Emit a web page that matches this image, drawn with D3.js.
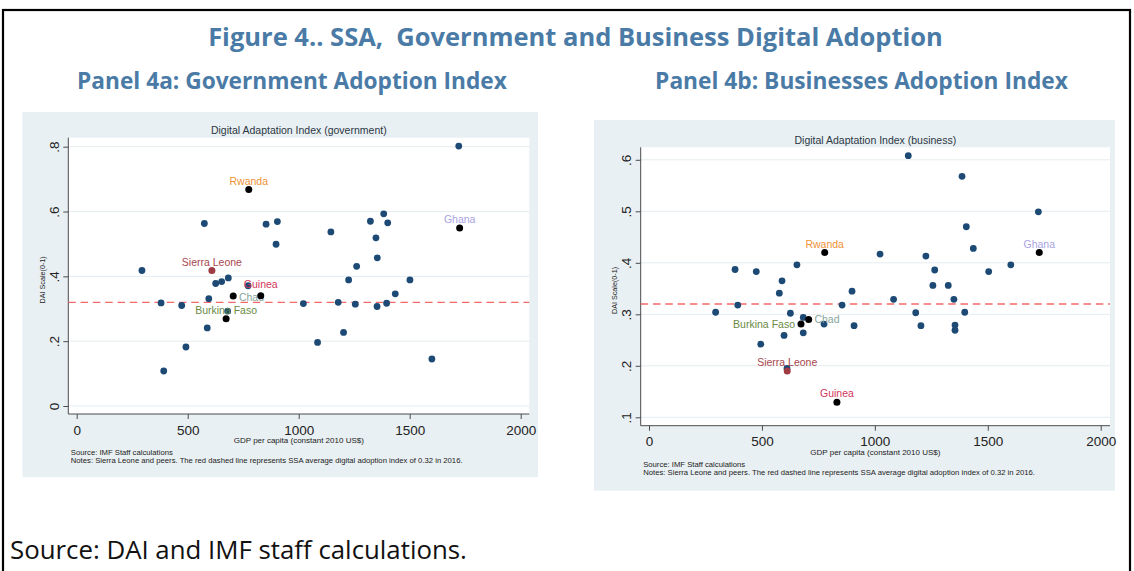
<!DOCTYPE html>
<html><head><meta charset="utf-8">
<script src="https://cdn.jsdelivr.net/npm/d3@7"></script>
<style>body{margin:0;background:#fff}svg{display:block}</style>
</head><body>
<svg id="c" width="1134" height="571"></svg>
<script>
// ---------------- DATA ----------------
const xTicks = [0, 500, 1000, 1500, 2000];
const govYTicks = [0, 0.2, 0.4, 0.6, 0.8];
const busYTicks = [0.1, 0.2, 0.3, 0.4, 0.5, 0.6];
const ssaAverage = 0.32;

const highlightCountries = ["Rwanda", "Ghana", "Sierra Leone", "Chad", "Guinea", "Burkina Faso"];

// Panel 4a: Government adoption index
const govPeersGDP = [294, 575, 380, 473, 492, 392, 588, 595, 626, 653, 683, 680, 772, 853, 904, 898,
  1021, 1085, 1145, 1178, 1202, 1225, 1255, 1261, 1323, 1348, 1354, 1353, 1383, 1401, 1396, 1435, 1501, 1600, 1721];
const govPeersDAI = [0.418, 0.563, 0.318, 0.310, 0.182, 0.108, 0.241, 0.331, 0.378, 0.384, 0.395, 0.293, 0.371, 0.561, 0.569, 0.499,
  0.316, 0.196, 0.537, 0.320, 0.227, 0.389, 0.314, 0.431, 0.570, 0.519, 0.457, 0.307, 0.593, 0.565, 0.317, 0.346, 0.389, 0.145, 0.802];
const govHighGDP = [775, 1725, 609, 705, 829, 673];
const govHighDAI = [0.668, 0.549, 0.418, 0.339, 0.340, 0.269];

// Panel 4b: Business adoption index
const busPeersGDP = [295, 381, 393, 475, 495, 577, 589, 598, 611, 626, 655, 683, 683, 775, 855, 899, 908,
  1023, 1083, 1148, 1181, 1204, 1226, 1257, 1265, 1325, 1350, 1355, 1355, 1386, 1398, 1405, 1436, 1504, 1602, 1724];
const busPeersDAI = [0.304, 0.387, 0.318, 0.383, 0.242, 0.341, 0.365, 0.259, 0.195, 0.302, 0.396, 0.294, 0.264, 0.281, 0.318, 0.345, 0.278,
  0.417, 0.329, 0.608, 0.303, 0.278, 0.413, 0.356, 0.386, 0.356, 0.329, 0.279, 0.269, 0.568, 0.304, 0.470, 0.428, 0.383, 0.396, 0.499];
const busHighGDP = [778, 1728, 612, 707, 832, 673];
const busHighDAI = [0.420, 0.420, 0.190, 0.290, 0.129, 0.281];

// ---------------- STYLE / LAYOUT ----------------
const labelColor = {"Rwanda":"#ee9236","Ghana":"#a9a3e2","Sierra Leone":"#a8464e","Chad":"#86a49b","Guinea":"#d3365c","Burkina Faso":"#6a8a45"};
const markerColor = {"Rwanda":"#000","Ghana":"#000","Sierra Leone":"#a03a43","Chad":"#000","Guinea":"#000","Burkina Faso":"#000"};
const peerColor = "#1c4a75";
const headColor = "#4a7ba6";
const statFont = "'Liberation Sans', Arial, sans-serif";
const headFont = "'Open Sans', 'Noto Sans', sans-serif";

const svg = d3.select("#c");

// outer frame
svg.append("rect").attr("x",3).attr("y",10).attr("width",1127).attr("height",620)
  .attr("fill","none").attr("stroke","#000").attr("stroke-width",2.2);

function fitText(sel, target){
  const w = sel.node().getComputedTextLength();
  sel.attr("font-size", (+sel.attr("font-size")) * target / w);
}

const title = svg.append("text").attr("x",575.5).attr("y",46).attr("text-anchor","middle")
  .attr("font-family",headFont).attr("font-weight",700).attr("font-size",21).attr("fill",headColor)
  .style("white-space","pre").text("Figure 4.. SSA,  Government and Business Digital Adoption");
fitText(title, 735);
const pa = svg.append("text").attr("x",292).attr("y",89).attr("text-anchor","middle")
  .attr("font-family",headFont).attr("font-weight",700).attr("font-size",19).attr("fill",headColor)
  .text("Panel 4a: Government Adoption Index");
fitText(pa, 430);
const pb = svg.append("text").attr("x",861.5).attr("y",89).attr("text-anchor","middle")
  .attr("font-family",headFont).attr("font-weight",700).attr("font-size",19).attr("fill",headColor)
  .text("Panel 4b: Businesses Adoption Index");
fitText(pb, 413);
const src = svg.append("text").attr("x",10).attr("y",559)
  .attr("font-family",headFont).attr("font-size",20).attr("fill","#111")
  .text("Source: DAI and IMF staff calculations.");
fitText(src, 457);

const tickFmt = v => v === 0 ? "0" : d3.format(".1f")(v).replace(/^0/, "");

function panel(cfg){
  const g = svg.append("g");
  g.append("rect").attr("x",cfg.bg[0]).attr("y",cfg.bg[1])
    .attr("width",cfg.bg[2]-cfg.bg[0]).attr("height",cfg.bg[3]-cfg.bg[1]).attr("fill","#e9f0f3");
  const p = cfg.plot;
  g.append("rect").attr("x",p.l).attr("y",p.t).attr("width",p.r-p.l).attr("height",p.b-p.t).attr("fill","#fff");

  const x = d3.scaleLinear().domain([0,2000]).range(cfg.xRange);
  const y = d3.scaleLinear().domain(cfg.yDomain).range(cfg.yRange);

  // gridlines
  g.selectAll(".grid").data(cfg.yTicks).join("line")
    .attr("x1",p.l).attr("x2",p.r).attr("y1",d=>y(d)).attr("y2",d=>y(d))
    .attr("stroke","#e4ecf0").attr("stroke-width",1);

  // chart title
  g.append("text").attr("x",(p.l+p.r)/2).attr("y",p.t-7).attr("dy","0.35em").attr("text-anchor","middle")
    .attr("font-family",statFont).attr("font-size",10.5).attr("fill","#2b3744").text(cfg.title);

  // x axis
  const xa = g.append("g").attr("transform",`translate(0,${p.b})`)
    .call(d3.axisBottom(x).tickValues(xTicks).tickSize(5).tickSizeOuter(0).tickFormat(d3.format("d")));
  xa.select(".domain").remove();
  xa.append("line").attr("x1",p.l).attr("x2",p.r).attr("stroke","#4a4a4a");
  xa.selectAll(".tick line").attr("stroke","#4a4a4a");
  xa.selectAll(".tick text").attr("y",16).attr("dy","0.35em").attr("font-family",statFont)
    .attr("font-size",13.5).attr("fill","#222");

  // y axis
  const ya = g.append("g").attr("transform",`translate(${p.l},0)`)
    .call(d3.axisLeft(y).tickValues(cfg.yTicks).tickSize(5).tickSizeOuter(0).tickFormat(tickFmt));
  ya.select(".domain").remove();
  ya.append("line").attr("y1",p.t).attr("y2",p.b).attr("stroke","#4a4a4a");
  ya.selectAll(".tick line").attr("stroke","#4a4a4a");
  ya.selectAll(".tick text").attr("x",null).attr("dy",null)
    .attr("transform","translate(-14,0) rotate(-90)").attr("text-anchor","middle").attr("dy","0.35em")
    .attr("font-family",statFont).attr("font-size",13.5).attr("fill","#222");

  // axis titles
  g.append("text").attr("x",(p.l+p.r)/2).attr("y",p.b+26).attr("dy","0.35em").attr("text-anchor","middle")
    .attr("font-family",statFont).attr("font-size",8).attr("fill","#222").text("GDP per capita (constant 2010 US$)");
  g.append("text").attr("transform",`translate(${p.l-26},${(p.t+p.b)/2+4}) rotate(-90)`).attr("dy","0.35em")
    .attr("text-anchor","middle").attr("font-family",statFont).attr("font-size",7.2).attr("fill","#222")
    .text("DAI Scale(0-1)");

  // notes
  g.append("text").attr("x",p.l+2.5).attr("y",p.b+38.5).attr("dy","0.35em")
    .attr("font-family",statFont).attr("font-size",7.7).attr("fill","#222").text("Source: IMF Staff calculations");
  g.append("text").attr("x",p.l+2.5).attr("y",p.b+46.3).attr("dy","0.35em")
    .attr("font-family",statFont).attr("font-size",7.7).attr("fill","#222")
    .text("Notes: Sierra Leone and peers. The red dashed line represents SSA average digital adoption index of 0.32 in 2016.");

  // SSA average line
  g.append("line").attr("x1",p.l).attr("x2",p.r).attr("y1",y(ssaAverage)).attr("y2",y(ssaAverage))
    .attr("stroke","#f46a6a").attr("stroke-width",1.3).attr("stroke-dasharray","7.5,4.8");

  // peers
  const peers = cfg.peerX.map((v,i)=>({gdp:v, dai:cfg.peerY[i]}));
  g.selectAll(".peer").data(peers).join("circle")
    .attr("cx",d=>x(d.gdp)).attr("cy",d=>y(d.dai)).attr("r",3.4).attr("fill",peerColor);

  // highlighted countries: labels first, markers on top
  const hi = highlightCountries.map((c,i)=>({name:c, gdp:cfg.hiX[i], dai:cfg.hiY[i]}));
  g.selectAll(".lab").data(hi).join("text")
    .attr("x",d=>{const pl=cfg.place[d.name]; const cx=x(d.gdp);
      return pl.pos===3 ? cx+5.7 : pl.pos===9 ? cx-6 : cx;})
    .attr("y",d=>{const pl=cfg.place[d.name]; const cy=y(d.dai); return cy + pl.dy;})
    .attr("dy","0.35em")
    .attr("text-anchor",d=>{const pos=cfg.place[d.name].pos; return pos===3?"start":pos===9?"end":"middle";})
    .attr("font-family",statFont).attr("font-size",10.5).attr("fill",d=>labelColor[d.name]).text(d=>d.name);
  g.selectAll(".hi").data(hi).join("circle")
    .attr("cx",d=>x(d.gdp)).attr("cy",d=>y(d.dai)).attr("r",3.5).attr("fill",d=>markerColor[d.name]);
}

panel({
  bg:[22.5,112,538,477], plot:{l:68.3,t:137.7,r:529.3,b:414},
  xRange:[76.7,520.7], yDomain:[0,0.8], yRange:[406,146.7], yTicks:govYTicks,
  title:"Digital Adaptation Index (government)",
  peerX:govPeersGDP, peerY:govPeersDAI, hiX:govHighGDP, hiY:govHighDAI,
  place:{"Rwanda":{pos:12,dy:-8.6},"Ghana":{pos:12,dy:-8.6},"Sierra Leone":{pos:12,dy:-8.6},
         "Chad":{pos:3,dy:1},"Guinea":{pos:12,dy:-11},"Burkina Faso":{pos:12,dy:-8.6}}
});
panel({
  bg:[594,120,1115,490.7], plot:{l:640.7,t:147.3,r:1110,b:425.7},
  xRange:[649,1100.7], yDomain:[0.1,0.6], yRange:[417.3,159.8], yTicks:busYTicks,
  title:"Digital Adaptation Index (business)",
  peerX:busPeersGDP, peerY:busPeersDAI, hiX:busHighGDP, hiY:busHighDAI,
  place:{"Rwanda":{pos:12,dy:-8.6},"Ghana":{pos:12,dy:-8.6},"Sierra Leone":{pos:12,dy:-8.6},
         "Chad":{pos:3,dy:0},"Guinea":{pos:12,dy:-8.6},"Burkina Faso":{pos:9,dy:0}}
});
</script>
</body></html>
